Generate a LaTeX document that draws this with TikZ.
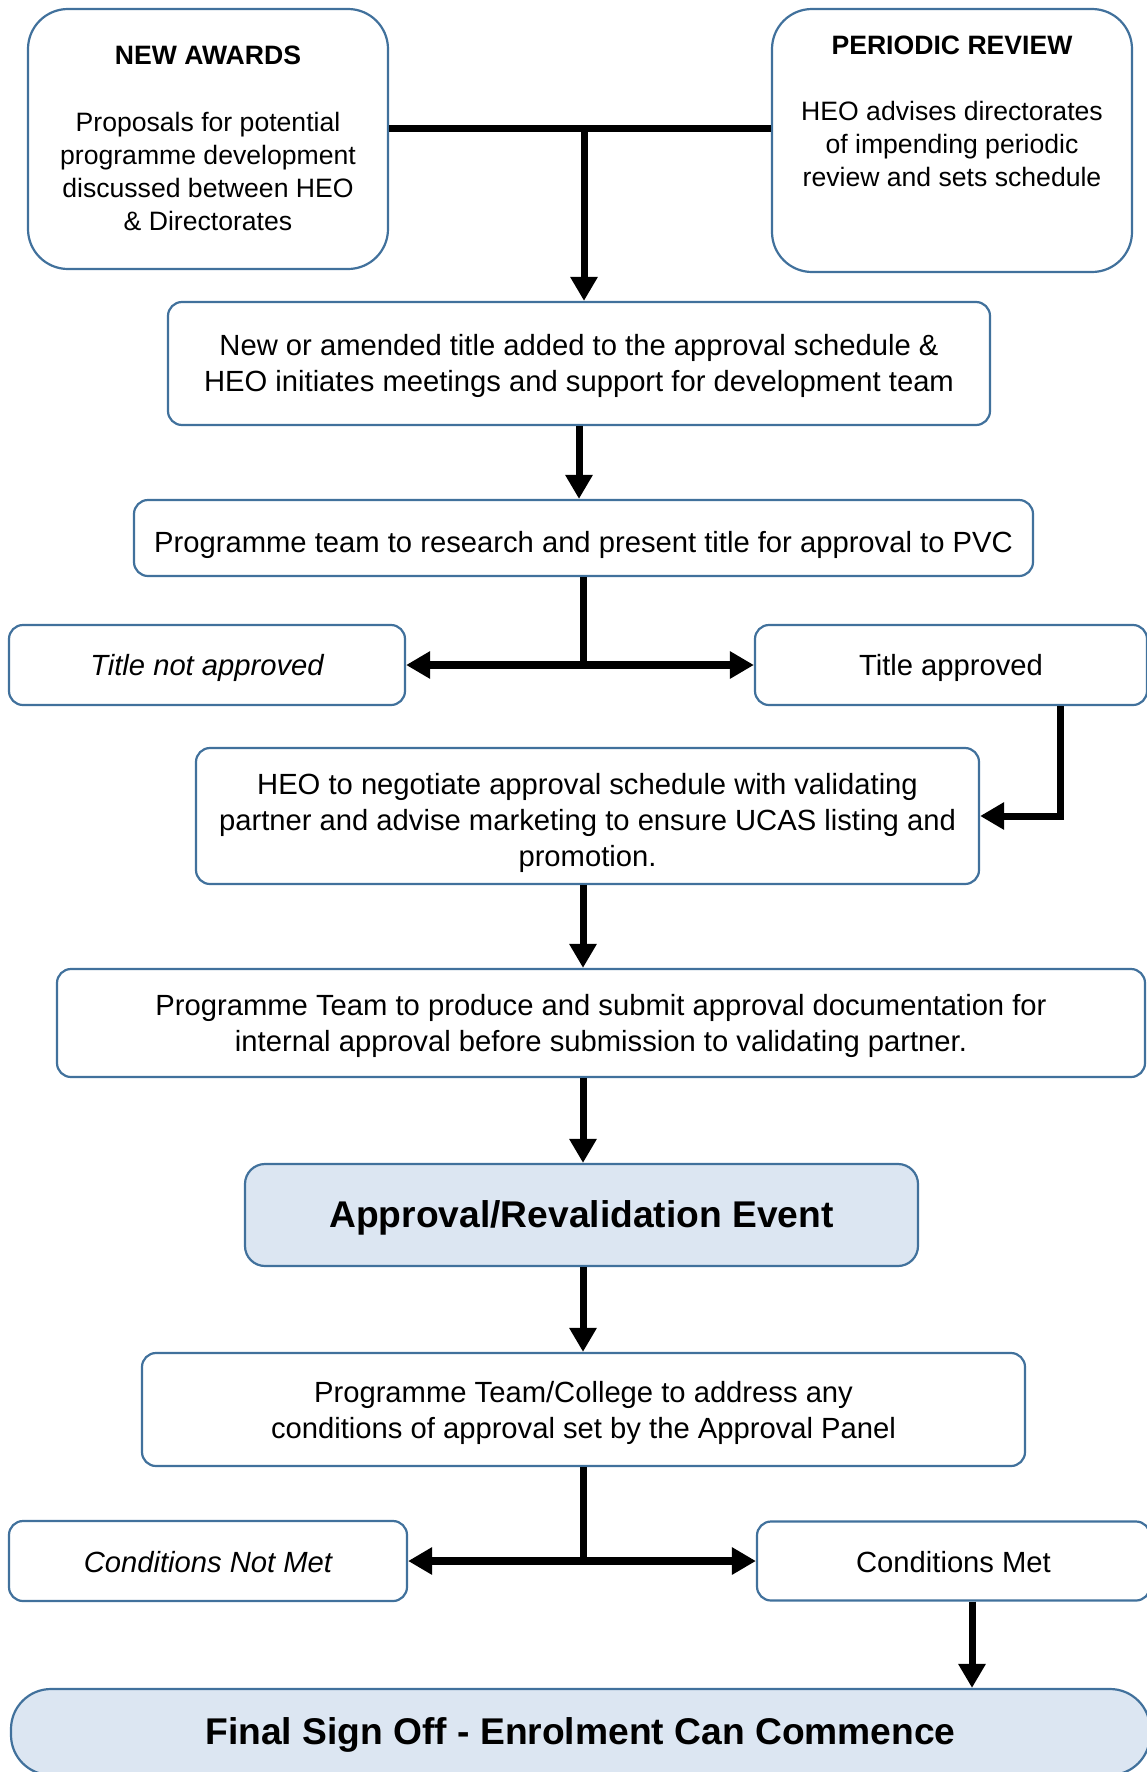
\documentclass[tikz,border=0pt]{standalone}
\usepackage{fontspec}
\setmainfont{Liberation Sans}
\usepackage{xcolor}
\usepackage{tikz}
\usetikzlibrary{arrows.meta,positioning,calc}

\definecolor{boxline}{RGB}{65,113,156}
\definecolor{boxfill}{RGB}{220,230,242}

\begin{document}
\begin{tikzpicture}[
        x=0.5pt, y=-0.5pt,
        stage/.style={rectangle, draw=boxline, fill=white, align=center, rounded corners=7pt, inner sep=0pt, line width=1.1pt, text height=13.6pt, font=\fontsize{14.6}{18}\selectfont},
        outcome/.style={stage, font=\fontsize{14.6}{18}\selectfont\itshape},
        startbox/.style={stage, rounded corners=20pt},
        startnote/.style={align=center, inner sep=0pt, font=\fontsize{13.3}{16.5}\selectfont},
        eventbox/.style={stage, fill=boxfill, rounded corners=10pt, text height=16pt, font=\fontsize{18.6}{22}\selectfont\bfseries},
        line/.style={draw, line width=3.5pt},
        arrow/.style={line, -{Triangle[length=12pt, width=13pt]}}
    ]
    \useasboundingbox (0,0) rectangle (1146,1772);

    % Starting points
    \node [startbox, minimum width=180pt, minimum height=130pt] (awards) at (208,139) {};
    \node [startnote] (awardstext) at (208,138.5) {\textbf{NEW AWARDS}\\[17pt]Proposals for potential\\programme development\\discussed between HEO\\\& Directorates};
    \node [startbox, minimum width=180pt, minimum height=131.5pt] (periodic) at (952,140.5) {};
    \node [startnote] (periodictext) at (952,111.5) {\textbf{PERIODIC REVIEW}\\[16.5pt]HEO advises directorates\\of impending periodic\\review and sets schedule};

    % Title stage
    \node [stage, text height=30.7pt, minimum width=411pt, minimum height=61.5pt] (title) at (579,363.5) {New or amended title added to the approval schedule \&\\HEO initiates meetings and support for development team};
    \node [stage, text height=17.6pt, minimum width=449.5pt, minimum height=38pt] (research) at (583.5,538) {Programme team to research and present title for approval to PVC};
    \node [outcome, minimum width=198pt, minimum height=40pt] (notappr) at (207,665) {Title not approved};
    \node [stage, minimum width=196pt, minimum height=40pt] (appr) at (951,665) {Title approved};

    % Development stage
    \node [stage, text height=53.8pt, minimum width=391.5pt, minimum height=68pt] (negotiate) at (587.5,816) {HEO to negotiate approval schedule with validating\\partner and advise marketing to ensure UCAS listing and\\promotion.};
    \node [stage, text height=31.3pt, minimum width=544pt, minimum height=54pt] (produce) at (601,1023) {Programme Team to produce and submit approval documentation for\\internal approval before submission to validating partner.};

    % Event and sign off
    \node [eventbox, minimum width=336.5pt, minimum height=51pt] (event) at (581.5,1215) {Approval/Revalidation Event};
    \node [stage, text height=32.4pt, minimum width=441.5pt, minimum height=56.5pt] (conditions) at (583.5,1409.5) {Programme Team/College to address any\\conditions of approval set by the Approval Panel};
    \node [outcome, text height=11.2pt, minimum width=199pt, minimum height=40pt] (notmet) at (208,1561) {Conditions Not Met};
    \node [stage, text height=11.2pt, minimum width=196.5pt, minimum height=39.5pt] (met) at (953.5,1561) {Conditions Met};
    \node [eventbox, rounded corners=20pt, minimum width=569.5pt, minimum height=43pt] (final) at (580.5,1732) {Final Sign Off - Enrolment Can Commence};

    % Junctions
    \coordinate (top) at (584,128);
    \coordinate (split1) at (583,665);
    \coordinate (split2) at (583,1561);

    % Main flow arrows
    \path [line] (awards.east |- top) -- (periodic.west |- top);
    \path [arrow] (top) -- (top |- title.north);
    \path [arrow] (title.south) -- (title.south |- research.north);
    \path [line] (research.south -| split1) -- (split1);
    \path [arrow, line width=4pt] (split1) -- (notappr.east);
    \path [arrow, line width=4pt] (split1) -- (appr.west);
    \path [arrow] ([xshift=54.5pt]appr.south) |- (negotiate.east);
    \path [arrow] (negotiate.south -| split1) -- (split1 |- produce.north);
    \path [arrow] (produce.south -| split1) -- (split1 |- event.north);
    \path [arrow] (event.south -| split1) -- (split1 |- conditions.north);
    \path [line] (conditions.south -| split2) -- (split2);
    \path [arrow, line width=4pt] (split2) -- (notmet.east);
    \path [arrow, line width=4pt] (split2) -- (met.west);
    \path [arrow] ([xshift=9.25pt]met.south) -- ([xshift=9.25pt]met.south |- final.north);

\end{tikzpicture}
\end{document}
